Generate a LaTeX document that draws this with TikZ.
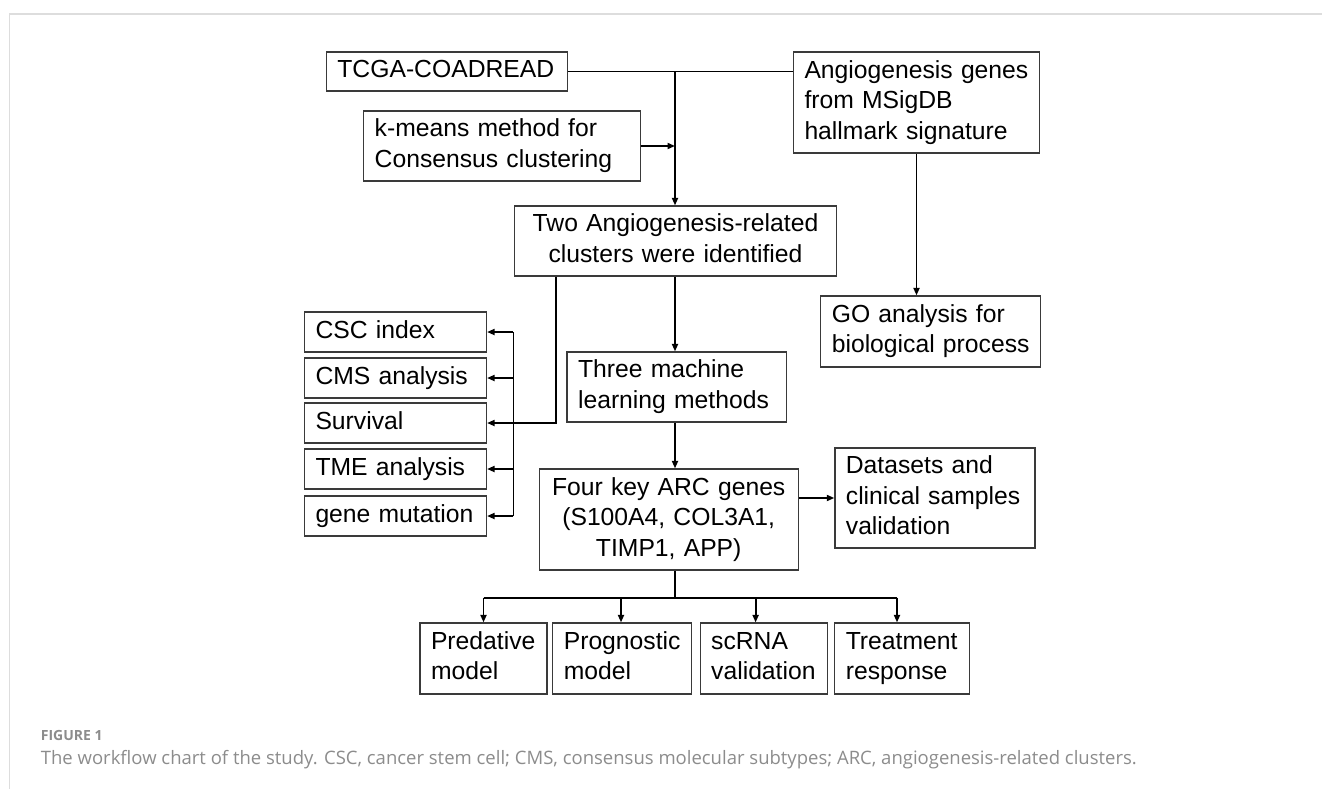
\documentclass[tikz,border=0pt]{standalone}
\usepackage{fontspec}
\setmainfont{Liberation Sans}
\newfontfamily\capfont{Open Sans}
\usetikzlibrary{arrows.meta,calc}
\definecolor{framec}{HTML}{DDDDDD}
\definecolor{capgray}{HTML}{8C8C8C}
\definecolor{boxc}{HTML}{3A3A3A}
\newcommand{\ltab}[1]{\begin{tabular}{@{}l@{}}#1\end{tabular}}
\newcommand{\ctab}[1]{\begin{tabular}{@{}c@{}}#1\end{tabular}}
\begin{document}
\begin{tikzpicture}[x=1pt,y=-1pt,
  box/.style={draw=boxc, line width=1.2pt, rectangle, inner xsep=11pt, inner ysep=0pt,
    font=\fontsize{24.7}{30.5}\selectfont, align=left},
  cbox/.style={box, align=center},
  conn/.style={line width=1.8pt, black},
  arr/.style={conn, -{Triangle[length=7.5pt,width=6pt]}}]
\useasboundingbox (0,0) rectangle (1322,789);
\draw[framec, line width=1.4pt] (9.3,789) -- (9.3,14) -- (1322,14);
% boxes
\node[box, minimum width=241, minimum height=39, text width=219] (tcga) at (446.9,71.5) {\ltab{TCGA-COADREAD}};
\node[box, minimum width=277, minimum height=70, text width=255] (km) at (502.2,146) {\ltab{k-means method for\\Consensus clustering}};
\node[box, minimum width=246, minimum height=101, text width=224] (ang) at (916.5,102.5) {\ltab{Angiogenesis genes\\from MSigDB\\hallmark signature}};
\node[cbox, minimum width=322, minimum height=70, text width=300] (two) at (675.5,241) {\ctab{Two Angiogenesis-related\\clusters were identified}};
\node[box, minimum width=220, minimum height=71, text width=198] (go) at (930.8,331.5) {\ltab{GO analysis for\\biological process}};
\node[box, minimum width=219.5, minimum height=70, text width=197.5] (three) at (676.8,387) {\ltab{Three machine\\learning methods}};
\node[cbox, minimum width=259, minimum height=101, text width=237] (four) at (668.7,519.5) {\ctab{Four key ARC genes\\(S100A4, COL3A1,\\TIMP1, APP)}};
\node[box, minimum width=200, minimum height=100, text width=178] (data) at (934.9,498) {\ltab{Datasets and\\clinical samples\\validation}};
\node[box, minimum width=182, minimum height=40, text width=160] (csc) at (395.5,332) {\ltab{CSC index}};
\node[box, minimum width=182, minimum height=40, text width=160] (cms) at (395.5,378) {\ltab{CMS analysis}};
\node[box, minimum width=182, minimum height=40, text width=160] (surv) at (395.5,423) {\ltab{Survival}};
\node[box, minimum width=182, minimum height=40, text width=160] (tme) at (395.5,469) {\ltab{TME analysis}};
\node[box, minimum width=182, minimum height=40, text width=160] (gene) at (395.5,516) {\ltab{gene mutation}};
\node[box, minimum width=127, minimum height=71, text width=105] (pred) at (483.5,658.5) {\ltab{Predative\\model}};
\node[box, minimum width=139, minimum height=71, text width=117] (prog) at (622.3,658.5) {\ltab{Prognostic\\model}};
\node[box, minimum width=127, minimum height=71, text width=105] (scrna) at (763.7,658.5) {\ltab{scRNA\\validation}};
\node[box, minimum width=135, minimum height=71, text width=113] (treat) at (902.3,658.5) {\ltab{Treatment\\response}};
% helper coordinates
\coordinate (spine) at (675,0);
\coordinate (lbus) at (513.4,0);
\coordinate (lline) at (556.3,0);
\coordinate (j1) at (tcga.east -| spine);
\coordinate (j2) at (km.east -| spine);
\coordinate (b0) at (675,597.7);
\coordinate (b1) at (483.5,597.7);
\coordinate (b2) at (621,597.7);
\coordinate (b3) at (755.6,597.7);
\coordinate (b4) at (897,597.7);
% connectors
\draw[conn] (tcga.east) -- (ang.west |- tcga.east);
\draw[arr] (j1) -- (two.north -| spine);
\draw[arr] (km.east) -- (j2);
\draw[arr] (ang.south) -- (ang.south |- go.north);
\draw[arr] (two.south -| spine) -- (three.north -| spine);
\draw[arr] (three.south -| spine) -- (four.north -| spine);
\draw[arr] (four.east |- data.west) -- (data.west);
\draw[arr] (two.south -| lline) |- (surv.east);
\draw[conn] (csc.east -| lbus) -- (gene.east -| lbus);
\foreach \n in {csc,cms,tme,gene} \draw[arr] (\n.east -| lbus) -- (\n.east);
\draw[conn] (four.south -| spine) -- (b0);
\draw[conn, line width=2.3pt] (b1) -- (b4);
\draw[arr] (b1) -- (b1 |- pred.north);
\draw[arr] (b2) -- (b2 |- prog.north);
\draw[arr] (b3) -- (b3 |- scrna.north);
\draw[arr] (b4) -- (b4 |- treat.north);
% caption
\node[anchor=base west, inner sep=0pt, text=capgray, font=\capfont\fontsize{14}{16}\selectfont\bfseries] (figlab) at (40.7,740.7) {FIGURE 1};
\node[anchor=base west, inner sep=0pt, text=capgray, font=\capfont\fontsize{18.5}{21}\selectfont] (cap) at (40.7,764) {The workflow chart of the study. CSC, cancer stem cell; CMS, consensus molecular subtypes; ARC, angiogenesis-related clusters.};
\end{tikzpicture}
\end{document}
